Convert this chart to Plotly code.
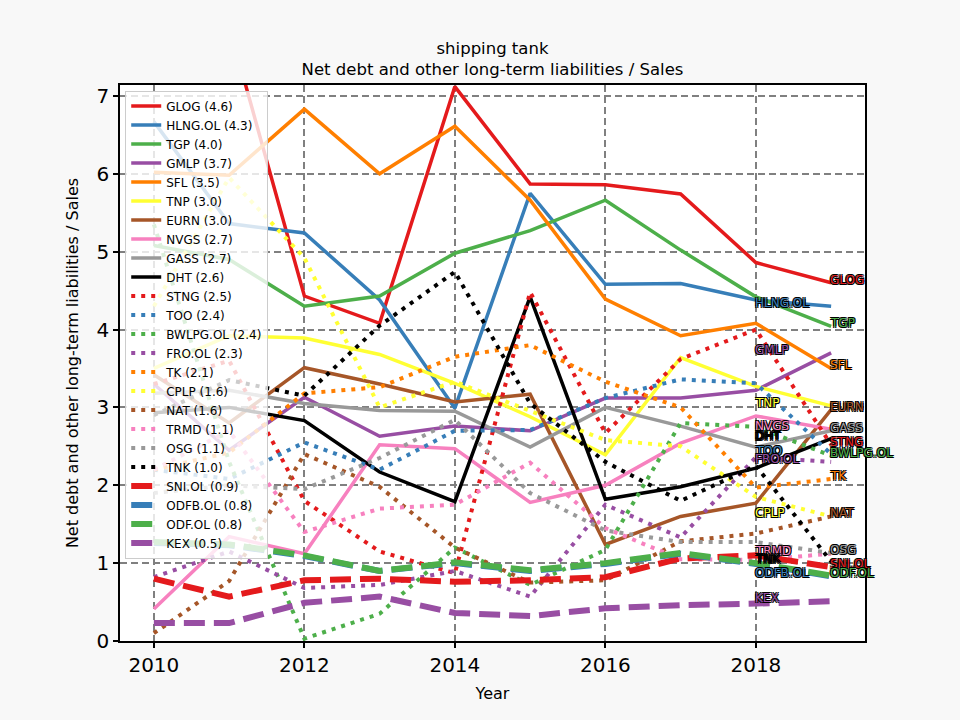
import plotly.graph_objects as go

years = [2010, 2011, 2012, 2013, 2014, 2015, 2016, 2017, 2018, 2019]

names = ["GLOG", "HLNG.OL", "TGP", "GMLP", "SFL", "TNP", "EURN", "NVGS", "GASS", "DHT",
         "STNG", "TOO", "BWLPG.OL", "FRO.OL", "TK", "CPLP", "NAT", "TRMD", "OSG", "TNK",
         "SNI.OL", "ODFB.OL", "ODF.OL", "KEX"]
legend_values = ["4.6", "4.3", "4.0", "3.7", "3.5", "3.0", "3.0", "2.7", "2.7", "2.6",
                 "2.5", "2.4", "2.4", "2.3", "2.1", "1.6", "1.6", "1.1", "1.1", "1.0",
                 "0.9", "0.8", "0.8", "0.5"]

glog = [8.6, 7.9, 4.43, 4.08, 7.12, 5.87, 5.86, 5.74, 4.86, 4.6]
hlng = [6.67, 5.36, 5.24, 4.38, 2.99, 5.75, 4.58, 4.59, 4.38, 4.3]
tgp = [5.08, 4.9, 4.3, 4.43, 4.98, 5.27, 5.66, 5.02, 4.42, 4.04]
gmlp = [3.3, 2.45, 3.13, 2.63, 2.76, 2.70, 3.12, 3.12, 3.22, 3.7]
sfl = [6.02, 5.98, 6.83, 6.0, 6.61, 5.66, 4.39, 3.92, 4.08, 3.5]
tnp = [3.5, 3.92, 3.89, 3.68, 3.31, 2.88, 2.39, 3.64, 3.27, 3.02]
eurn = [3.42, 2.8, 3.51, 3.3, 3.07, 3.17, 1.24, 1.6, 1.77, 2.97]
nvgs = [0.41, 1.34, 1.12, 2.52, 2.47, 1.78, 2.0, 2.54, 2.89, 2.72]
gass = [3.18, 3.22, 3.05, 2.96, 2.95, 2.49, 3.0, 2.76, 2.49, 2.7]
dht = [2.93, 3.0, 2.83, 2.17, 1.79, 4.42, 1.82, 1.98, 2.22, 2.6]
stng = [3.3, 3.6, 1.8, 1.15, 0.87, 4.48, 2.67, 3.62, 4.0, 2.52]
too = [2.2, 2.08, 2.55, 2.2, 2.7, 2.71, 3.12, 3.36, 3.31, 2.4]
bwlpg = [5.35, 2.3, 0.03, 0.35, 1.2, 0.72, 1.17, 2.8, 2.75, 2.38]
fro = [0.82, 1.15, 0.68, 0.72, 0.9, 0.57, 1.75, 1.33, 2.36, 2.3]
tk = [2.2, 2.42, 3.18, 3.26, 3.65, 3.8, 3.33, 3.0, 1.97, 2.08]
cplp = [4.3, 5.95, 4.92, 3.0, 3.33, 2.95, 2.58, 2.5, 1.85, 1.6]
nat = [0.1, 0.77, 2.4, 1.98, 1.2, 0.75, 0.78, 1.28, 1.38, 1.6]
trmd = [2.2, 2.7, 1.4, 1.7, 1.75, 2.29, 1.45, 1.05, 1.04, 1.12]
osg = [1.9, 2.0, 1.95, 2.35, 2.84, 1.9, 1.42, 1.27, 1.27, 1.13]
tnk = [2.9, 3.35, 3.15, 4.05, 4.74, 3.05, 2.3, 1.8, 2.25, 1.02]
sni = [0.8, 0.57, 0.78, 0.8, 0.76, 0.78, 0.82, 1.06, 1.1, 0.95]
odfb = [1.26, 1.23, 1.09, 0.9, 1.0, 0.9, 0.99, 1.12, 0.99, 0.83]
odf = [1.27, 1.24, 1.1, 0.9, 1.01, 0.91, 1.0, 1.13, 1.0, 0.84]
kex = [0.23, 0.23, 0.49, 0.57, 0.36, 0.32, 0.42, 0.46, 0.48, 0.51]

series = [glog, hlng, tgp, gmlp, sfl, tnp, eurn, nvgs, gass, dht,
          stng, too, bwlpg, fro, tk, cplp, nat, trmd, osg, tnk,
          sni, odfb, odf, kex]

palette = ["#e41a1c", "#377eb8", "#4daf4a", "#984ea3", "#ff7f00",
           "#ffff33", "#a65628", "#f781bf", "#999999", "#000000"]

FONT = "DejaVu Sans"
fig = go.Figure()

for i, (name, vals) in enumerate(zip(names, series)):
    color = palette[i % 10]
    if i < 10:
        line = dict(color=color, width=3.5)
    elif i < 20:
        line = dict(color=color, width=4, dash="4px,6px")
    else:
        line = dict(color=color, width=6, dash="21px,9px")
    fig.add_trace(go.Scatter(x=years, y=vals, mode="lines", line=line,
                             name=f"{name} ({legend_values[i]})"))

outline = ("-1px -1px 0 #000, 1px -1px 0 #000, -1px 1px 0 #000, 1px 1px 0 #000")
for i, (name, vals) in enumerate(zip(names, series)):
    color = palette[i % 10]
    xi = years[-1] if i % 2 == 0 else years[-2]
    fig.add_annotation(x=xi, y=vals[-1], text=name, showarrow=False,
                       xanchor="left", yanchor="middle", xshift=-3, yshift=3,
                       font=dict(family=FONT, size=12, color=color, shadow=outline))

fig.update_layout(
    width=960, height=720,
    margin=dict(l=120, r=95, t=85, b=79),
    paper_bgcolor="#f8f8f8", plot_bgcolor="white",
    font=dict(family=FONT, color="black"),
    title=dict(text="shipping tank<br>Net debt and other long-term liabilities / Sales",
               x=0.5, xref="paper", xanchor="center",
               y=1 - 54 / 720, yref="container", yanchor="middle",
               font=dict(family=FONT, size=16.5, color="black")),
    legend=dict(x=0.007, y=0.99, xanchor="left", yanchor="top",
                bgcolor="rgba(255,255,255,0.8)", bordercolor="#cccccc", borderwidth=1,
                font=dict(family=FONT, size=12, color="black"), itemwidth=30),
    showlegend=True,
)

fig.update_xaxes(range=[2009.55, 2019.45], tickvals=[2010, 2012, 2014, 2016, 2018],
                 ticks="outside", ticklen=5, tickwidth=1.5, tickcolor="black",
                 showline=True, linecolor="black", linewidth=1.5, mirror=True,
                 showgrid=True, gridcolor="#808080", gridwidth=1.5, griddash="7px,4px",
                 zeroline=False, tickfont=dict(family=FONT, size=20),
                 title=dict(text="Year", font=dict(family=FONT, size=16), standoff=12))
fig.update_yaxes(range=[0, 7.14], tickvals=[0, 1, 2, 3, 4, 5, 6, 7],
                 ticks="outside", ticklen=5, tickwidth=1.5, tickcolor="black",
                 showline=True, linecolor="black", linewidth=1.5, mirror=True,
                 showgrid=True, gridcolor="#808080", gridwidth=1.5, griddash="7px,4px",
                 zeroline=False, tickfont=dict(family=FONT, size=20),
                 title=dict(text="Net debt and other long-term liabilities / Sales",
                            font=dict(family=FONT, size=16), standoff=14))

fig.write_html("out.html")
